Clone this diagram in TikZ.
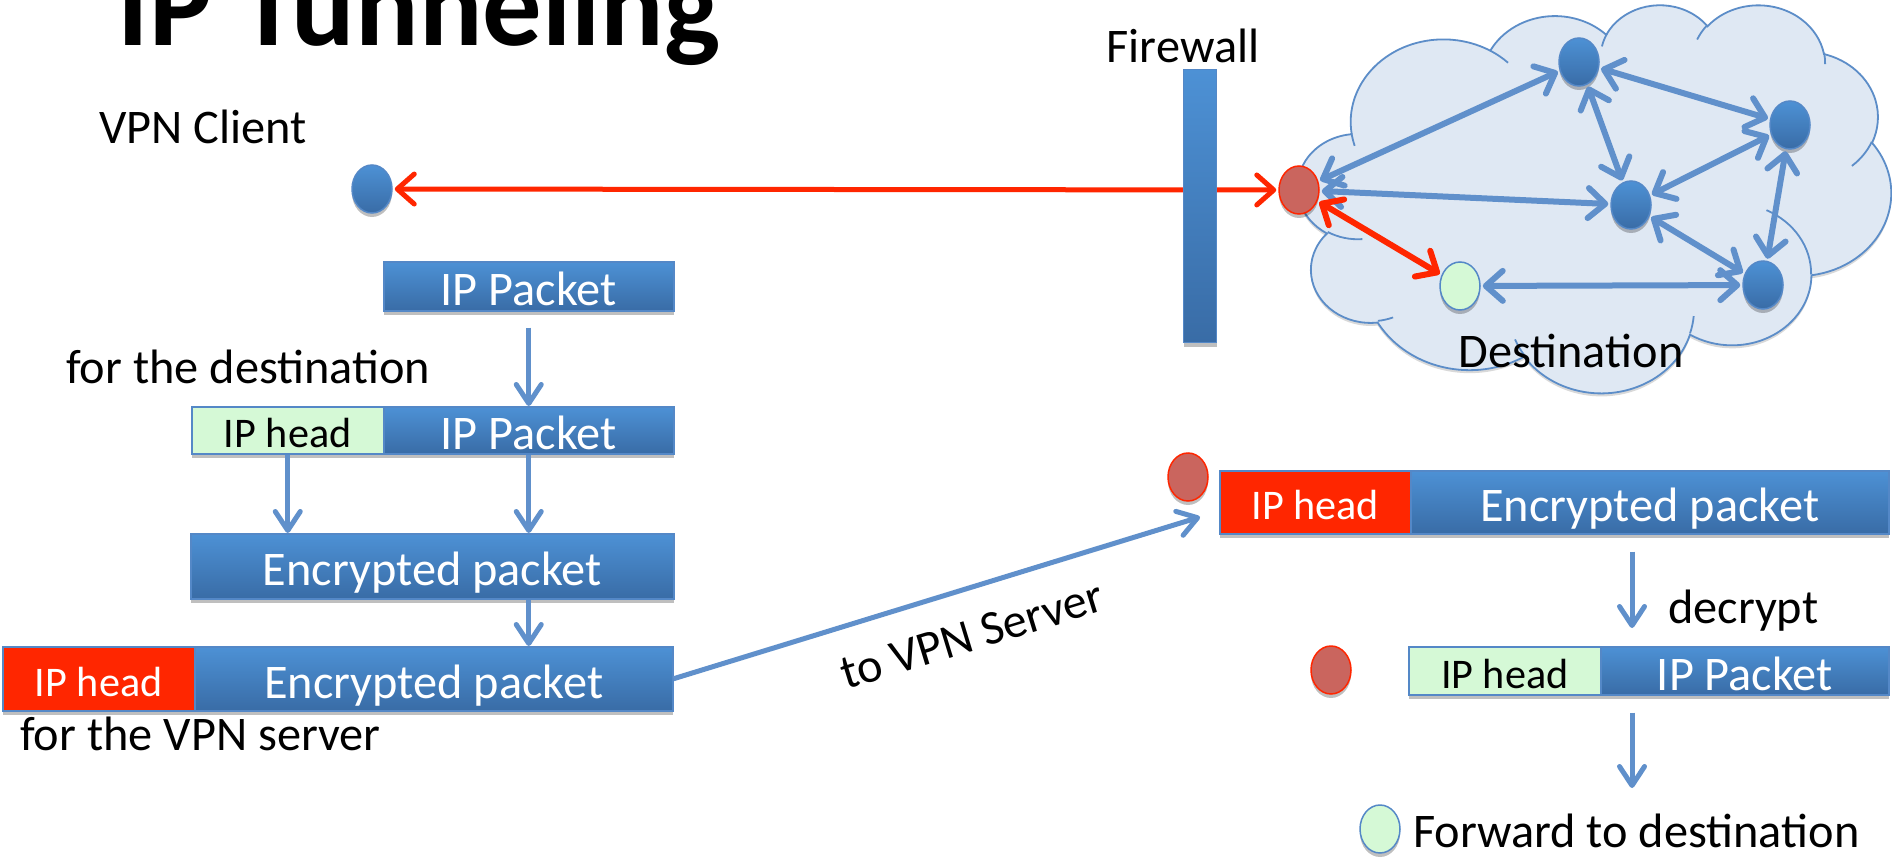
\documentclass[tikz,border=0pt]{standalone}
\usepackage{fontspec}
\setmainfont{Carlito}
\usetikzlibrary{arrows.meta,shapes.geometric,shadows}

\definecolor{boxtop}{RGB}{77,145,213}
\definecolor{boxbot}{RGB}{57,108,166}
\definecolor{boxline}{RGB}{84,136,199}
\definecolor{linkblue}{RGB}{96,144,203}
\definecolor{hotred}{RGB}{255,38,0}
\definecolor{serverred}{RGB}{202,101,94}
\definecolor{mint}{RGB}{213,249,214}
\definecolor{cloudfill}{RGB}{223,232,243}
\definecolor{cloudline}{RGB}{92,141,200}

\newcommand\txtL{\fontsize{48.3}{58}\selectfont}
\newcommand\txtS{\fontsize{42.2}{50}\selectfont}
\newcommand\txtT{\fontsize{118.5}{130}\selectfont\bfseries}

% Parametric start angle and sweep of one elliptical cloud arc.
% #1 tag, #2 x radius, #3 y radius, #4 start angle, #5 sweep (visual angles)
\newcommand\cldset[5]{%
  \pgfmathsetmacro\cldtmpa{atan2((#2)*sin(#4),(#3)*cos(#4))}%
  \pgfmathsetmacro\cldtmpb{atan2((#2)*sin((#4)+(#5)),(#3)*cos((#4)+(#5)))}%
  \pgfmathsetmacro\cldtmpd{mod(\cldtmpb-\cldtmpa+720,360)}%
  \expandafter\let\csname cld#1s\endcsname\cldtmpa
  \expandafter\let\csname cld#1d\endcsname\cldtmpd
}

\tikzset{
  softshadow/.style={drop shadow={shadow xshift=0pt, shadow yshift=-4pt, opacity=0.25, fill=black}},
  bluebox/.style={rectangle, draw=boxline, line width=1.5pt, top color=boxtop, bottom color=boxbot,
    inner sep=0pt, text=white, anchor=north west, softshadow},
  greenbox/.style={rectangle, draw=boxline, line width=1.5pt, fill=mint, inner sep=0pt,
    text=black, anchor=north west, softshadow},
  redbox/.style={rectangle, draw=boxline, line width=1.5pt, fill=hotred, inner sep=0pt,
    text=white, anchor=north west, softshadow},
  bigtext/.style={font=\txtL, text height=39pt, text depth=0pt},
  smalltext/.style={font=\txtS, text height=35pt, text depth=0pt},
  nodedot/.style={ellipse, minimum width=40pt, minimum height=48pt, inner sep=0pt, line width=1.5pt, softshadow},
  bluedot/.style={nodedot, draw=boxline, top color=boxtop, bottom color=boxbot},
  reddot/.style={nodedot, draw=hotred, fill=serverred},
  greendot/.style={nodedot, draw=boxline, fill=mint},
  wall/.style={rectangle, draw=boxline, line width=1pt, top color=boxtop, bottom color=boxbot,
    inner sep=0pt, anchor=north west, minimum width=33pt, minimum height=273pt, softshadow},
  lbl/.style={font=\txtL, inner sep=0pt, text=black},
  link/.style={draw=linkblue, line width=6pt, line cap=round,
    {Straight Barb[length=17pt,width=30pt,round]}-{Straight Barb[length=17pt,width=30pt,round]},
    shorten <=2pt, shorten >=2pt},
  redlink/.style={draw=hotred, line width=6pt, line cap=round,
    {Straight Barb[length=17pt,width=30pt,round]}-{Straight Barb[length=17pt,width=30pt,round]},
    shorten <=2pt, shorten >=2pt},
  flow/.style={draw=linkblue, line width=5pt, -{Straight Barb[length=19pt,width=25pt,round]}},
}

\begin{document}
\begin{tikzpicture}[x=1pt, y=-1pt]
\useasboundingbox (0,0) rectangle (1892,859);
\fill[white] (0,0) rectangle (1892,859);

% title
\node[font=\txtT, anchor=base, inner sep=0pt] (title) at (419,46) {IP Tunneling};

% ---------------- the remote network (cloud) ----------------
\begin{scope}[shift={(1298,4)}, x=1.3727pt, y=-0.8981pt]
  \cldset{A}{67.53}{91.90}{-190.4875}{123.7805}
  \cldset{B}{53.33}{72.67}{-144.1024}{89.9452}
  \cldset{C}{43.65}{59.45}{-145.8079}{99.7230}
  \cldset{D}{48.57}{65.95}{-130.9861}{117.2417}
  \cldset{E}{53.33}{72.73}{-78.7089}{109.0269}
  \cldset{F}{67.75}{92.20}{-46.2673}{130.2690}
  \cldset{G}{57.85}{78.67}{0.6250}{114.0333}
  \cldset{H}{67.52}{92.15}{22.4516}{115.1726}
  \cldset{I}{77.20}{105.43}{66.2426}{75.7110}
  \cldset{J}{43.60}{59.18}{-274.9421}{146.7356}
  \cldset{K}{43.45}{59.45}{-246.8285}{152.5189}
  \cldset{L}{43.45}{59.45}{86.7420}{26.4295}
  \cldset{M}{43.60}{59.18}{73.6105}{11.4475}
  \cldset{N}{67.52}{92.15}{137.6242}{14.0811}
  \cldset{O}{67.52}{92.15}{6.4533}{15.9984}
  \cldset{P}{57.85}{78.67}{-70.2924}{70.9174}
  \cldset{Q}{53.33}{72.73}{30.3180}{27.7515}
  \cldset{R}{48.57}{65.95}{-13.7443}{14.8501}
  \cldset{S}{48.57}{65.95}{-149.1815}{18.1961}
  \cldset{T}{43.65}{59.45}{-163.4943}{17.6958}
  \cldset{U}{67.53}{91.90}{-66.7070}{12.3194}
  \cldset{V}{67.53}{91.90}{157.6544}{11.8582}
  \path[fill=cloudfill, draw=cloudline, line width=1.8pt,
        drop shadow={shadow xshift=0pt, shadow yshift=-3pt, opacity=0.15, fill=black}]
    (39,143.70)
    arc[start angle=\cldAs, delta angle=\cldAd, x radius=67.53, y radius=91.90]
    arc[start angle=\cldBs, delta angle=\cldBd, x radius=53.33, y radius=72.67]
    arc[start angle=\cldCs, delta angle=\cldCd, x radius=43.65, y radius=59.45]
    arc[start angle=\cldDs, delta angle=\cldDd, x radius=48.57, y radius=65.95]
    arc[start angle=\cldEs, delta angle=\cldEd, x radius=53.33, y radius=72.73]
    arc[start angle=\cldFs, delta angle=\cldFd, x radius=67.75, y radius=92.20]
    arc[start angle=\cldGs, delta angle=\cldGd, x radius=57.85, y radius=78.67]
    arc[start angle=\cldHs, delta angle=\cldHd, x radius=67.52, y radius=92.15]
    arc[start angle=\cldIs, delta angle=\cldId, x radius=77.20, y radius=105.43]
    arc[start angle=\cldJs, delta angle=\cldJd, x radius=43.60, y radius=59.18]
    arc[start angle=\cldKs, delta angle=\cldKd, x radius=43.45, y radius=59.45]
    -- cycle;
  \draw[cloudline, line width=1.8pt]
    (46.93,261.77) arc[start angle=\cldLs, delta angle=\cldLd, x radius=43.45, y radius=59.45]
    (69.28,348.99) arc[start angle=\cldMs, delta angle=\cldMd, x radius=43.60, y radius=59.18]
    (164.78,390.90) arc[start angle=\cldNs, delta angle=\cldNd, x radius=67.52, y radius=92.15]
    (288.27,347.51) arc[start angle=\cldOs, delta angle=\cldOd, x radius=67.52, y radius=92.15]
    (341.29,229.54) arc[start angle=\cldPs, delta angle=\cldPd, x radius=57.85, y radius=78.67]
    (417.98,153.54) arc[start angle=\cldQs, delta angle=\cldQd, x radius=53.33, y radius=72.73]
    (383.24,54.26) arc[start angle=\cldRs, delta angle=\cldRd, x radius=48.57, y radius=65.95]
    (290.78,39.52) arc[start angle=\cldSs, delta angle=\cldSd, x radius=48.57, y radius=65.95]
    (221.41,47.20) arc[start angle=\cldTs, delta angle=\cldTd, x radius=43.65, y radius=59.45]
    (140.00,51.92) arc[start angle=\cldUs, delta angle=\cldUd, x radius=67.53, y radius=91.90]
    (41.27,157.89) arc[start angle=\cldVs, delta angle=\cldVd, x radius=67.53, y radius=91.90];
\end{scope}

% routers inside the network
\node[bluedot] (n1) at (1579,62) {};
\node[bluedot] (n2) at (1790,125) {};
\node[bluedot] (n3) at (1631,205) {};
\node[bluedot] (n4) at (1763,285) {};
\node[reddot] (vpn) at (1299,190) {};
\node[greendot] (dst) at (1460,286) {};

\draw[link] (vpn) -- (n1);
\draw[link] (vpn) -- (n3);
\draw[link] (n1) -- (n3);
\draw[link] (n1) -- (n2);
\draw[link] (n2) -- (n3);
\draw[link] (n2) -- (n4);
\draw[link] (n3) -- (n4);
\draw[link] (dst) -- (n4);
\draw[redlink] (vpn) -- (dst);

\node[lbl, anchor=base] (dstlabel) at (1571,367) {Destination};

% client, tunnel and firewall
\node[lbl, anchor=base west] (clientlabel) at (99,143) {VPN Client};
\node[bluedot] (client) at (372,189) {};
\draw[redlink, line width=5pt] (client) -- (vpn);
\node[wall] (firewall) at (1183,69) {};
\node[lbl, anchor=base] (walllabel) at (1183,63) {Firewall};

% ---------------- encapsulation at the client ----------------
\node[bluebox, bigtext, minimum width=290pt, minimum height=49pt] (b1) at (383,261) {IP Packet};
\node[lbl, anchor=base west] (fordst) at (66,383) {for the destination};
\node[greenbox, smalltext, minimum width=192pt, minimum height=47pt] (h2) at (191,406) {IP head};
\node[bluebox, bigtext, minimum width=290pt, minimum height=47pt] (p2) at (383,406) {IP Packet};
\node[bluebox, bigtext, minimum width=483pt, minimum height=65pt] (b3) at (190,533) {Encrypted packet};
\node[redbox, smalltext, minimum width=192pt, minimum height=64pt] (h4) at (2,646) {IP head};
\node[bluebox, bigtext, minimum width=478pt, minimum height=64pt] (p4) at (194,646) {Encrypted packet};
\node[lbl, anchor=base west] (forvpn) at (20,750) {for the VPN server};

\draw[flow, shorten <=16pt] (b1.south) -- (p2.north);
\draw[flow] (h2.south) -- (h2.south |- b3.north);
\draw[flow] (p2.south) -- (p2.south |- b3.north);
\draw[flow] (p2.south |- b3.south) -- (p2.south |- p4.north);

% ---------------- tunnel to the server ----------------
\coordinate (arrive) at (1200,517);
\draw[flow] (p4.east) -- (arrive);
\node[lbl, rotate=17] (tolabel) at (972,635) {to VPN Server};

% ---------------- decapsulation at the server ----------------
\node[reddot] (srv1) at (1188,477) {};
\node[redbox, smalltext, minimum width=191pt, minimum height=63pt] (h5) at (1219,470) {IP head};
\node[bluebox, bigtext, minimum width=478pt, minimum height=63pt] (p5) at (1410,470) {Encrypted packet};

\coordinate (lane) at (1632,0);
\node[reddot] (srv2) at (1331,670) {};
\node[greenbox, smalltext, minimum width=192pt, minimum height=48pt] (h6) at (1408,646) {IP head};
\node[bluebox, bigtext, minimum width=288pt, minimum height=48pt] (p6) at (1600,646) {IP Packet};

\draw[flow, shorten <=17pt, shorten >=18pt] (p5.south -| lane) -- (p6.north -| lane);
\node[lbl, anchor=base west] (declabel) at (1668,623) {decrypt};

\coordinate (fwd) at (1632,788);
\draw[flow, shorten <=17pt] (p6.south -| lane) -- (fwd);

\node[greendot] (final) at (1380,829) {};
\node[lbl, anchor=base west] (fwdlabel) at (1413,847) {Forward to destination};
\end{tikzpicture}
\end{document}
